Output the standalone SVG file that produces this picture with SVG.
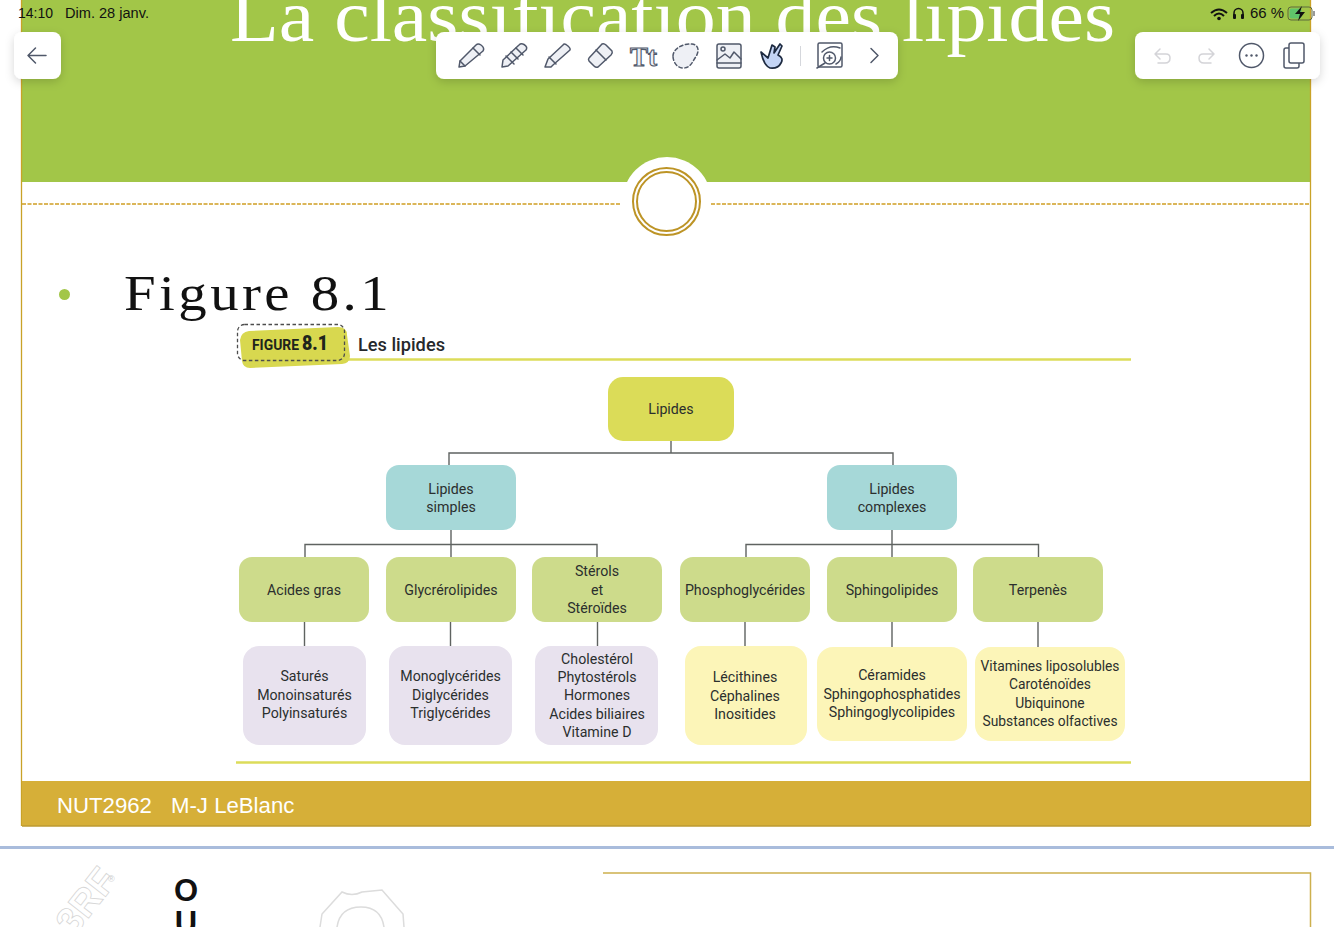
<svg xmlns="http://www.w3.org/2000/svg" width="1334" height="927" viewBox="0 0 1334 927">
<defs>
<filter id="sh" x="-30%" y="-30%" width="160%" height="170%"><feDropShadow dx="0" dy="3" stdDeviation="5" flood-color="#000" flood-opacity=".16"/></filter>
</defs>
<style>
.n{font-family:"Roboto","Liberation Sans",sans-serif;font-size:14.2px;fill:#2b2f2e;text-anchor:middle}
.s{font-size:13.8px}
.c{fill:none;stroke:#5f6361;stroke-width:1.4}
.i{fill:#eef0f5;stroke:#50586a;stroke-width:1.5;stroke-linejoin:round;stroke-linecap:round}
.l{fill:none;stroke:#50586a;stroke-width:1.5;stroke-linejoin:round;stroke-linecap:round}
.u{fill:none;stroke:#d4d4d8;stroke-width:1.5;stroke-linejoin:round;stroke-linecap:round}
.st{font-family:"Liberation Sans",Arial,sans-serif;font-size:14px;fill:#111}
</style>
<rect width="1334" height="927" fill="#fff"/>
<g id="slide">
<rect x="22" y="0" width="1288" height="182" fill="#a2c648"/>
<circle cx="667" cy="201.500" r="44.500" fill="#fff"/>
<path d="M21.500 0V826M1310.500 0V826" stroke="#c9a227" stroke-width="1.300" fill="none"/>
<path d="M22 204H620M711 204H1310" stroke="#cf9f23" stroke-width="1.400" stroke-dasharray="4 1.500" fill="none"/>
<circle cx="666.500" cy="201.500" r="33.500" fill="#fff" stroke="#bd9426" stroke-width="2"/>
<circle cx="666.500" cy="201.500" r="29.500" fill="#fff" stroke="#bd9426" stroke-width="2"/>
<text x="230" y="41" font-family="'Liberation Serif','Times New Roman',serif" font-size="75" fill="#fff" textLength="885" lengthAdjust="spacingAndGlyphs">La classification des lipides</text>
<circle cx="64.500" cy="294.500" r="5.500" fill="#a2c648"/>
<text x="124" y="310" font-family="'Liberation Serif','Times New Roman',serif" font-size="50" letter-spacing="3" fill="#111" textLength="268" lengthAdjust="spacingAndGlyphs">Figure 8.1</text>
<rect x="22" y="781" width="1288" height="45" fill="#d6af38"/>
<path d="M22 826H1310" stroke="#bd9a30" stroke-width="1.300"/>
<text x="57" y="812.500" font-family="'Liberation Sans',Arial,sans-serif" font-size="22.200" fill="#fff">NUT2962</text>
<text x="171" y="812.500" font-family="'Liberation Sans',Arial,sans-serif" font-size="22.200" fill="#fff">M-J LeBlanc</text>
</g>
<g id="figure-header">
<path d="M345 359.500H1131" stroke="#dcdc5a" stroke-width="2.500"/>
<path d="M240 340Q241 332 249 331L338 327Q347 327 347 335L350 356Q350 363 342 364L250 368Q243 368 242 361Z" fill="#d8d84f"/>
<rect x="237.500" y="324.500" width="107" height="36" rx="7" fill="none" stroke="#4d4d4d" stroke-width="1.300" stroke-dasharray="3.500 2.500"/>
<text x="252" y="349.500" font-family="'Roboto','Liberation Sans',sans-serif" font-weight="700" font-size="15.500" fill="#20241c" textLength="47" lengthAdjust="spacingAndGlyphs">FIGURE</text>
<text x="302" y="349.500" font-family="'Roboto','Liberation Sans',sans-serif" font-weight="900" font-size="21" fill="#20241c" textLength="26" lengthAdjust="spacingAndGlyphs">8.1</text>
<text x="358" y="351" font-family="'Roboto','Liberation Sans',sans-serif" font-weight="500" font-size="18.500" fill="#25282c" textLength="87" lengthAdjust="spacingAndGlyphs">Les lipides</text>
</g>
<g id="connectors">
<path class="c" d="M671 441V453M449 465V453H893V465"/>
<path class="c" d="M451 530V557M305 557V544.500H597V557"/>
<path class="c" d="M892 530V557M746 557V544.500H1038.500V557"/>
<path class="c" d="M304.500 622V646M450.500 622V646M597.500 622V646M745 622V646M892 622V648M1038 622V648"/>
</g>
<g id="lipides"><rect x="608" y="377" width="126" height="64" rx="15" fill="#dbdc58"/><text class="n" x="671" y="414">Lipides</text></g>
<g id="simples"><rect x="386" y="465" width="130" height="65" rx="13" fill="#a6d8d8"/><text class="n" x="451" y="494">Lipides</text><text class="n" x="451" y="512">simples</text></g>
<g id="complexes"><rect x="827" y="465" width="130" height="65" rx="13" fill="#a6d8d8"/><text class="n" x="892" y="494">Lipides</text><text class="n" x="892" y="512">complexes</text></g>
<g id="acides-gras"><rect x="239" y="557" width="130" height="65" rx="13" fill="#cddb8b"/><text class="n" x="304" y="595">Acides gras</text></g>
<g id="glycerolipides"><rect x="386" y="557" width="130" height="65" rx="13" fill="#cddb8b"/><text class="n" x="451" y="595">Glycrérolipides</text></g>
<g id="sterols"><rect x="532" y="557" width="130" height="65" rx="13" fill="#cddb8b"/><text class="n" x="597" y="576">Stérols</text><text class="n" x="597" y="595">et</text><text class="n" x="597" y="613">Stéroïdes</text></g>
<g id="phosphoglycerides"><rect x="680" y="557" width="130" height="65" rx="13" fill="#cddb8b"/><text class="n" x="745" y="595">Phosphoglycérides</text></g>
<g id="sphingolipides"><rect x="827" y="557" width="130" height="65" rx="13" fill="#cddb8b"/><text class="n" x="892" y="595">Sphingolipides</text></g>
<g id="terpenes"><rect x="973" y="557" width="130" height="65" rx="13" fill="#cddb8b"/><text class="n" x="1038" y="595">Terpenès</text></g>
<g id="satures"><rect x="243" y="646" width="123" height="99" rx="16" fill="#e8e2ee"/><text class="n" x="304.500" y="681">Saturés</text><text class="n" x="304.500" y="700">Monoinsaturés</text><text class="n" x="304.500" y="718">Polyinsaturés</text></g>
<g id="glycerides"><rect x="389" y="646" width="123" height="99" rx="16" fill="#e8e2ee"/><text class="n" x="450.500" y="681">Monoglycérides</text><text class="n" x="450.500" y="700">Diglycérides</text><text class="n" x="450.500" y="718">Triglycérides</text></g>
<g id="cholesterol"><rect x="535" y="646" width="123" height="99" rx="16" fill="#e8e2ee"/><text class="n" x="597" y="664">Cholestérol</text><text class="n" x="597" y="682">Phytostérols</text><text class="n" x="597" y="700">Hormones</text><text class="n" x="597" y="719">Acides biliaires</text><text class="n" x="597" y="737">Vitamine D</text></g>
<g id="lecithines"><rect x="685" y="646" width="122" height="99" rx="16" fill="#fcf5b8"/><text class="n" x="745" y="682">Lécithines</text><text class="n" x="745" y="701">Céphalines</text><text class="n" x="745" y="719">Inositides</text></g>
<g id="ceramides"><rect x="817" y="647" width="150" height="94" rx="16" fill="#fcf5b8"/><text class="n" x="892" y="680">Céramides</text><text class="n" x="892" y="699">Sphingophosphatides</text><text class="n" x="892" y="717">Sphingoglycolipides</text></g>
<g id="vitamines"><rect x="975" y="647" width="150" height="94" rx="16" fill="#fcf5b8"/><text class="n s" x="1050" y="671">Vitamines liposolubles</text><text class="n s" x="1050" y="689">Caroténoïdes</text><text class="n s" x="1050" y="708">Ubiquinone</text><text class="n s" x="1050" y="726">Substances olfactives</text></g>
<path id="figure-rule" d="M236 762.500H1131" stroke="#dcdc5a" stroke-width="2.500"/>
<g id="next-page">
<rect x="0" y="846" width="1334" height="3" fill="#a9bcdc"/>
<path d="M603 873H1310.500V927" fill="none" stroke="#cdb04e" stroke-width="1.500"/>
<text x="186" y="901" font-family="'Liberation Sans',Arial,sans-serif" font-weight="700" font-size="31" fill="#111" text-anchor="middle">O</text>
<text x="186" y="933" font-family="'Liberation Sans',Arial,sans-serif" font-weight="700" font-size="31" fill="#111" text-anchor="middle">U</text>
<text transform="translate(74 937) rotate(-52)" font-family="'Liberation Sans',Arial,sans-serif" font-weight="700" font-size="38" fill="#fff" stroke="#d6d6d6" stroke-width=".8">3RF</text>
<text x="108" y="882" font-family="'Liberation Sans',Arial,sans-serif" font-size="9" fill="#ccc">®</text>
<path d="M320 927L322 914L342 892Q352 897 362 892L382 890L403 914L404 927" fill="none" stroke="#dcdcdc" stroke-width="1.500"/>
<path d="M337 927Q340 907 361 907Q381 907 384 927" fill="none" stroke="#dcdcdc" stroke-width="1.500"/>
</g>
<g id="status-bar">
<text class="st" x="18" y="18">14:10</text>
<text class="st" x="65" y="18" textLength="84" lengthAdjust="spacingAndGlyphs">Dim. 28 janv.</text>
<path d="M1211 13Q1219 6 1227 13M1214 16Q1219 11 1224 16" fill="none" stroke="#111" stroke-width="2"/><circle cx="1219" cy="18.500" r="1.800" fill="#111"/>
<path d="M1234 18V13A4.500 4.500 0 0 1 1243 13V18" fill="none" stroke="#111" stroke-width="1.500"/><rect x="1233" y="14" width="3" height="5" rx="1" fill="#111"/><rect x="1241" y="14" width="3" height="5" rx="1" fill="#111"/>
<text class="st" x="1250" y="18" textLength="34" lengthAdjust="spacingAndGlyphs">66 %</text>
<rect x="1288" y="7" width="24" height="13" rx="3" fill="none" stroke="#5c6b3c" stroke-width="1"/><rect x="1289.500" y="8.500" width="12" height="10" rx="2" fill="#5fc56a"/><path d="M1302 6L1295 14H1300L1298 21L1305 12H1300Z" fill="#111"/><path d="M1314 11V16" stroke="#777" stroke-width="1.500"/>
</g>
<g id="back-button" filter="url(#sh)"><rect x="14" y="32" width="47" height="47" rx="8" fill="#fff"/></g>
<path class="l" d="M46 55.500H28M35.500 48L28 55.500L35.500 63"/>
<g id="toolbar"><g filter="url(#sh)"><rect x="436" y="32" width="462" height="47" rx="8" fill="#fff"/></g>
<path class="i" d="M460 61L459 67L465 66L483 51Q485 48 481 45Q478 43 476 45Z"/><path class="l" d="M473 48L480 55M460 61L465 66"/>
<path class="i" d="M503 60L502 67L508 66L526 50Q528 47 524 44.500Q521 43 519 45Z"/><path class="l" d="M506 56L514 64M511 52L518 59M516 48L523 55"/>
<path class="i" d="M548 59L545 67H551L553 65L570 50Q571 48 566 44.500Q564 43.500 563 45Z"/><path class="l" d="M549 57L556 64"/>
<path class="i" d="M589 58L602 44Q604 43 606 45L612 51Q613 53 611 55L598 67Q596 68 594 66L589 61Q588 59 589 58Z"/><path class="l" d="M596 50L606 60"/>
<text x="630" y="66" font-family="'Liberation Serif',serif" font-weight="700" font-size="27" fill="#eef0f5" stroke="#50586a" stroke-width="1.100">Tt</text>
<path class="i" stroke-dasharray="3.500 2.500" d="M673 56C673 49 683 43 692 44C700 45 699 53 695 58C692 63 690 68 683 68C677 68 673 62 673 56Z"/>
<rect class="i" x="717" y="44" width="24" height="24" rx="2"/><circle class="l" cx="723" cy="49" r="2"/><path class="l" d="M717 60L725 54L730 58L734 52L741 59M717 63H741"/>
<path d="M761 52L768 58L772 45L775 47L774 53L780 44L782 46L778 55Q784 58 781 63Q778 69 770 68Q764 66 761 52Z" fill="#c4d5f5" stroke="#1d2a40" stroke-width="1.700" stroke-linejoin="round"/>
<path d="M800.500 46V66" stroke="#d5d7dc" stroke-width="1"/>
<rect class="l" x="818" y="43" width="24" height="24" rx="1.500"/>
<circle fill="#fff" stroke="#50586a" stroke-width="1.500" cx="829.500" cy="58" r="6"/><path class="l" d="M827 58H832M829.500 55.500V60.500M825 63L817 68M822 52Q830 44 840 48M836 64Q841 61 841 57"/>
<path class="l" d="M871 48.500L878 55.500L871 62.500"/></g>
<g id="right-toolbar"><g filter="url(#sh)"><rect x="1135" y="32" width="185" height="47" rx="8" fill="#fff"/></g>
<path class="u" d="M1160 49L1155 54L1160 59M1155 54H1166Q1170 54 1170 58Q1170 63 1165 63H1158"/>
<path class="u" d="M1209 49L1214 54L1209 59M1214 54H1203Q1199 54 1199 58Q1199 63 1204 63H1211"/>
<circle class="l" cx="1251.500" cy="55.500" r="12"/><circle cx="1246.500" cy="55.500" r="1.200" fill="#50586a"/><circle cx="1251.500" cy="55.500" r="1.200" fill="#50586a"/><circle cx="1256.500" cy="55.500" r="1.200" fill="#50586a"/>
<rect class="l" x="1284" y="48" width="15" height="20" rx="2"/><rect x="1289" y="43" width="15" height="20" rx="2" fill="#fff" stroke="#50586a" stroke-width="1.500"/></g>
</svg>
